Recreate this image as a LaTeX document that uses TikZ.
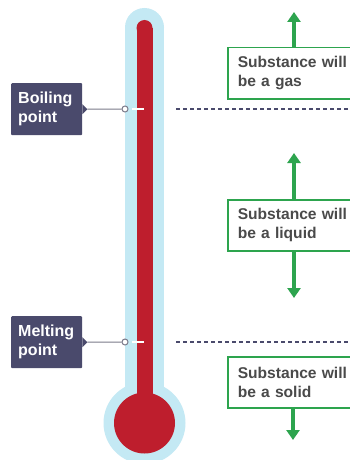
\documentclass[tikz,border=0pt]{standalone}
\usepackage{fontspec}
\setmainfont{Liberation Sans}
\usetikzlibrary{arrows.meta}
\definecolor{tubeblue}{HTML}{C4E9F4}
\definecolor{mercury}{HTML}{BE1E2D}
\definecolor{slate}{HTML}{4A4A6C}
\definecolor{leaf}{HTML}{2DA44E}
\definecolor{ink}{HTML}{4A4A4A}
\definecolor{wire}{HTML}{7A7A8A}

\begin{document}
\begin{tikzpicture}[x=1pt,y=-1pt,
  pointlabel/.style={fill=slate, text=white, rounded corners=1pt,
    font=\bfseries\fontsize{16}{19}\selectfont, align=left,
    inner xsep=7pt, inner ysep=0pt, text width=57pt,
    minimum height=52pt, anchor=north west},
  statebox/.style={draw=leaf, line width=1.5pt, fill=white, text=ink,
    font=\bfseries\fontsize{15.6}{19}\selectfont, align=left,
    inner xsep=10pt, inner ysep=0pt, text width=130pt,
    minimum height=51pt, anchor=north west},
  dot/.style={circle, draw=wire, fill=white, line width=1pt,
    minimum size=6pt, inner sep=0pt},
  wireline/.style={draw=wire, line width=1pt},
  tickline/.style={draw=white, line width=1.5pt},
  levelline/.style={draw=slate, line width=1.2pt, dash pattern=on 4pt off 3pt},
  statearrow/.style={draw=leaf, line width=3.2pt, -{Triangle[width=13pt,length=10pt]}}
]
\useasboundingbox (0,0) rectangle (350,460);
\clip (0,0) rectangle (350,460);
\fill[white] (0,0) rectangle (350,460);

% glass of the thermometer
\fill[tubeblue] (144.5,423) circle[radius=41];
\fill[tubeblue] (125,27.5) rectangle (164,423);
\fill[tubeblue] (144.5,27.5) circle[radius=19.5];
% liquid column
\fill[mercury] (144.5,423) circle[radius=30.5];
\fill[mercury] (136.5,28) rectangle (152.5,423);
\fill[mercury] (144.5,28) circle[radius=8];

% boiling point
\node[pointlabel] (boil) at (11,83) {Boiling\\point};
\fill[slate] ([yshift=5pt]boil.east) -- ([xshift=5pt]boil.east) -- ([yshift=-5pt]boil.east) -- cycle;
\node[dot] (bdot) at (125,109) {};
\coordinate (btick) at (144,109);
\draw[wireline] ([xshift=5pt]boil.east) -- (bdot.west);
\draw[tickline] ([xshift=3pt]bdot.east) -- (btick);
\coordinate (bdash0) at (176,109);
\coordinate (bdash1) at (352,109);
\draw[levelline] (bdash0) -- (bdash1);

% melting point
\node[pointlabel] (melt) at (11,316) {Melting\\point};
\fill[slate] ([yshift=5pt]melt.east) -- ([xshift=5pt]melt.east) -- ([yshift=-5pt]melt.east) -- cycle;
\node[dot] (mdot) at (125,342) {};
\coordinate (mtick) at (144,342);
\draw[wireline] ([xshift=5pt]melt.east) -- (mdot.west);
\draw[tickline] ([xshift=3pt]mdot.east) -- (mtick);
\coordinate (mdash0) at (176,342);
\coordinate (mdash1) at (352,342);
\draw[levelline] (mdash0) -- (mdash1);

% states of matter
\node[statebox] (gas) at (227,47) {Substance will\\be a gas};
\coordinate (gastip) at (294,12);
\draw[statearrow] (gas.north -| gastip) -- (gastip);

\node[statebox] (liquid) at (227,199) {Substance will\\be a liquid};
\coordinate (liqup) at (294,153);
\coordinate (liqdown) at (294,298);
\draw[statearrow] (liquid.north -| liqup) -- (liqup);
\draw[statearrow] (liquid.south -| liqdown) -- (liqdown);

\node[statebox] (solid) at (227,356) {Substance will\\be a solid};
\coordinate (soltip) at (293,440);
\draw[statearrow] (solid.south -| soltip) -- (soltip);
\end{tikzpicture}
\end{document}
